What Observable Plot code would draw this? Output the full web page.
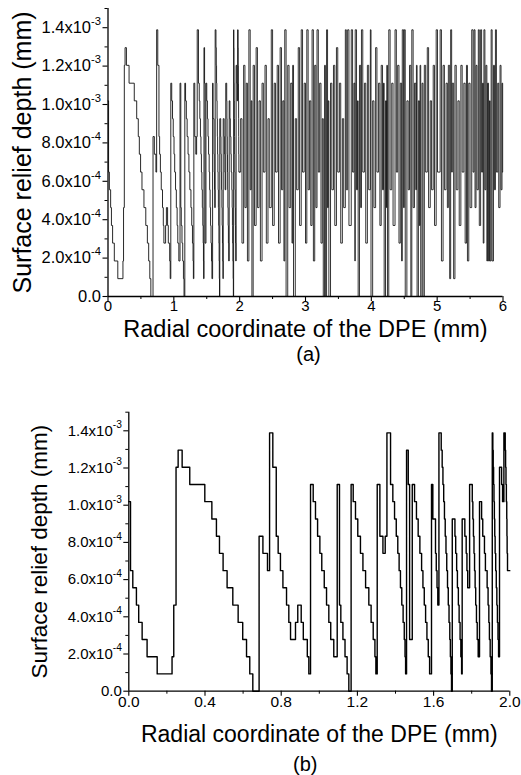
<!DOCTYPE html>
<html><head><meta charset="utf-8">
<script src="https://cdn.jsdelivr.net/npm/d3@7"></script>
<script src="https://cdn.jsdelivr.net/npm/@observablehq/plot@0.6"></script>
<style>
html,body{margin:0;padding:0;background:#fff}
#wrap{position:relative;width:521px;height:775px;overflow:hidden;background:#fff}
#wrap svg{position:absolute;left:0;overflow:visible}
</style></head>
<body><div id="wrap"></div>
<script>
// ---------- DATA (depth values in units of 1e-3 mm, radial coordinate in mm) ----------
// Panel (b): zoomed profile 0–2 mm, step-after positions and depths
const bX = [0.000,0.009,0.021,0.040,0.052,0.070,0.096,0.149,0.227,0.236,0.248,0.259,0.280,0.320,0.399,0.436,0.460,0.476,0.495,0.516,0.546,0.574,0.598,0.618,0.635,0.651,
0.684,0.704,0.728,0.739,0.756,0.774,0.784,0.796,0.809,0.828,0.840,0.849,0.875,0.887,0.905,0.916,0.937,0.945,
0.954,0.968,0.980,0.991,1.003,1.013,1.026,1.038,1.050,1.060,1.076,1.094,1.106,1.113,1.124,1.135,1.146,1.155,
1.167,1.178,1.190,1.202,1.216,1.229,1.243,1.260,1.272,1.283,1.292,1.297,1.304,1.318,1.334,1.346,1.355,1.374,1.386,1.395,1.404,1.412,1.419,1.426,1.433,1.440,1.446,1.450,1.453,
1.458,1.467,1.474,1.488,1.500,1.510,1.519,1.528,1.537,1.544,1.551,1.558,1.565,1.572,1.579,
1.589,1.596,1.610,1.614,1.618,1.622,1.628,1.640,1.645,1.649,1.653,1.657,1.661,1.665,1.669,1.673,1.677,1.681,1.685,1.688,1.691,1.694,
1.698,1.712,1.716,1.721,1.725,1.730,1.734,1.739,1.743,1.747,1.750,1.764,1.771,1.775,1.779,
1.789,1.803,1.806,1.809,1.812,1.815,1.818,1.821,1.825,1.829,1.834,1.841,1.852,1.858,1.867,1.872,1.881,1.886,1.890,1.893,1.897,1.901,1.904,
1.908,1.911,1.913,1.915,1.917,1.919,1.921,1.923,1.926,1.929,1.932,1.935,1.938,1.941,1.946,1.957,1.962,1.969,1.976,1.978,1.980,1.982,1.984,1.985,1.986,1.988,2.000];
const bV = [1.019,0.648,0.556,0.463,0.370,0.278,0.185,0.093,0.185,0.463,1.204,1.296,1.204,1.111,1.019,0.926,0.833,0.741,0.648,0.556,0.463,0.370,0.278,0.185,0.093,0,
0.833,0.741,0.648,1.389,1.204,0.833,0.741,0.648,0.556,0.463,0.370,0.278,0.370,0.463,0.370,0.278,0.185,0.093,
1.111,1.019,0.926,0.833,0.741,0.648,0.556,0.463,0.370,0.278,0.185,1.111,0.463,0.370,0.278,0.185,0.093,0,
1.111,1.019,0.926,0.833,0.741,0.648,0.556,0.463,0.370,0.278,0.185,0.093,1.111,0.833,0.741,0.833,1.389,1.111,1.019,0.926,0.833,0.741,0.648,0.556,0.463,0.370,0.278,0.185,0.093,
1.296,1.111,0.278,1.111,1.019,0.926,0.833,0.741,0.648,0.556,0.463,0.370,0.278,0.185,0.093,
1.111,0.926,0.741,0.648,0.556,0.463,1.389,1.296,1.204,1.111,1.019,0.926,0.833,0.741,0.648,0.556,0.463,0.370,0.278,0.185,0.093,0,
0.926,0.833,0.741,0.648,0.556,0.463,0.370,0.278,0.185,0.093,0.926,0.833,0.741,0.648,0.556,
1.111,1.019,0.926,0.833,0.741,0.648,0.556,0.463,0.370,0.278,0.185,1.019,0.926,0.833,0.741,0.648,0.556,0.463,0.370,0.278,0.185,0.093,0,
1.389,1.296,1.204,1.111,1.019,0.926,0.833,0.741,0.648,0.556,0.463,0.370,0.278,0.185,1.204,1.111,1.019,1.389,1.296,1.204,1.111,1.019,0.926,0.833,0.741,0.648,0.648];

// Panel (a): continuation of the profile from 2 to 6 mm, one entry per zone
// (zone start, depth at the top of the zone, position where it drops, depth at the bottom of the zone)
const aZoneStart = [2.015,2.060,2.100,2.140,2.175,2.205,2.250,2.295,2.340,2.385,
2.430,2.480,2.525,2.570,2.615,2.655,2.685,2.730,2.775,2.805,
2.845,2.890,2.935,2.980,3.020,3.060,3.100,3.140,3.175,3.215,
3.255,3.290,3.320,3.345,3.380,3.425,3.470,3.515,3.560,3.605,
3.640,3.695,3.735,3.755,3.790,3.820,3.850,3.895,3.940,3.985,
4.020,4.065,4.110,4.150,4.185,4.215,4.235,4.265,4.310,4.360,
4.400,4.440,4.470,4.500,4.540,4.580,4.615,4.655,4.685,4.715,
4.740,4.770,4.805,4.850,4.895,4.940,4.985,5.045,5.090,5.135,
5.170,5.205,5.230,5.270,5.315,5.360,5.405,5.445,5.480,5.525,
5.560,5.590,5.625,5.660,5.690,5.710,5.740,5.765,5.795,5.820,
5.855,5.885,5.920,5.955,5.985];
const aZoneTop = [0.926,1.204,1.111,1.389,1.019,1.204,1.296,1.019,1.111,1.204,
0.926,1.389,1.111,1.204,1.296,1.019,1.389,1.204,1.111,1.204,
0.926,1.296,1.389,1.111,1.389,1.019,1.389,1.204,1.389,1.111,
0.926,1.204,1.389,1.019,1.111,1.204,1.296,1.111,0.926,1.389,
1.389,1.389,1.111,1.389,1.019,1.204,1.389,1.111,1.204,1.389,
1.019,1.296,1.111,1.204,1.111,1.019,1.204,1.389,1.111,1.389,
1.204,1.111,1.389,1.389,1.019,1.204,1.389,1.111,1.204,1.019,
1.204,1.111,1.204,1.296,1.019,1.204,1.389,1.389,1.204,1.111,
1.204,1.389,1.111,1.204,1.019,1.204,1.111,1.204,1.111,1.389,
1.389,1.204,1.389,1.389,1.111,1.389,1.204,1.111,1.019,1.389,
1.204,1.389,1.111,1.204,1.111];
const aZoneDrop = [2.035,2.080,2.118,2.160,2.186,2.225,2.270,2.315,2.360,2.405,
2.450,2.500,2.545,2.590,2.635,2.672,2.705,2.750,2.795,2.818,
2.865,2.910,2.955,3.000,3.040,3.080,3.120,3.158,3.195,3.235,
3.270,3.302,3.335,3.355,3.400,3.445,3.490,3.535,3.580,3.620,
3.660,3.715,3.750,3.775,3.800,3.838,3.870,3.915,3.960,3.995,
4.040,4.085,4.130,4.170,4.195,4.230,4.245,4.285,4.330,4.380,
4.420,4.460,4.490,4.515,4.560,4.600,4.635,4.675,4.695,4.730,
4.750,4.785,4.825,4.870,4.915,4.960,5.005,5.065,5.110,5.155,
5.190,5.220,5.250,5.290,5.335,5.380,5.425,5.460,5.500,5.545,
5.575,5.605,5.640,5.675,5.700,5.725,5.755,5.780,5.805,5.835,
5.870,5.900,5.935,5.970,5.995];
const aZoneBottom = [0.278,0.463,0.185,0.556,0,0.370,0.463,0.185,0.648,0.278,
0.463,0.370,0.648,0.278,0.556,0.185,0,0.463,0.278,0,
0.556,0.370,0.648,0.278,0.556,0.370,0.185,0.463,0.648,0.278,
0,0,0.463,0,0.556,0.370,0.648,0.278,0.463,0.556,
0.370,0.648,0.185,0.556,0,0.463,0.648,0.278,0.556,0,
0.463,0.648,0.370,0.556,0,0.463,0,0.556,0.370,0.648,
0.278,0.185,0.463,0,0.556,0,0.463,0.556,0,0.370,
0,0,0.648,0.463,0.556,0.370,0.648,0.185,0.556,0.463,
0.093,0.648,0.093,0.556,0.370,0.648,0.278,0.185,0.463,0.648,
0.463,0.556,0.370,0.648,0.278,0.556,0.185,0.185,0.185,0.185,
0.556,0.648,0.463,0.556,0.648];
const aEndX = 6.0, aEndV = 0.648;

// Axis ticks and labels
const yMajor = [0, 0.2e-3, 0.4e-3, 0.6e-3, 0.8e-3, 1.0e-3, 1.2e-3, 1.4e-3];
const yLabels = ["0.0","2.0x10^-4","4.0x10^-4","6.0x10^-4","8.0x10^-4","1.0x10^-3","1.2x10^-3","1.4x10^-3"];
const yMinor = [0.1e-3, 0.3e-3, 0.5e-3, 0.7e-3, 0.9e-3, 1.1e-3, 1.3e-3, 1.5e-3];
const aXMajor = [0,1,2,3,4,5,6];
const aXLabels = ["0","1","2","3","4","5","6"];
const aXMinor = [0.5,1.5,2.5,3.5,4.5,5.5];
const bXMajor = [0,0.4,0.8,1.2,1.6,2.0];
const bXLabels = ["0.0","0.4","0.8","1.2","1.6","2.0"];
const bXMinor = [0.2,0.6,1.0,1.4,1.8];
const xTitle = "Radial coordinate of the DPE (mm)";
const yTitle = "Surface relief depth (mm)";

// ---------- build tables ----------
const bData = bX.map((x, i) => ({x, y: bV[i] * 1e-3}));
const aExt = [{x: bX[bX.length - 1], y: bV[bV.length - 1] * 1e-3}];
aZoneStart.forEach((s, i) => {
  aExt.push({x: s, y: aZoneTop[i] * 1e-3});
  aExt.push({x: aZoneDrop[i], y: aZoneBottom[i] * 1e-3});
});
aExt.push({x: aEndX, y: aEndV * 1e-3});

const FONT = "'Liberation Sans', Arial, Helvetica, sans-serif";

function panel(o) {
  const yl = d => yLabels[Math.round(d / 2e-4)];
  return Plot.plot({
    width: 521, height: o.height,
    marginTop: o.mt, marginBottom: o.mb, marginLeft: o.ml, marginRight: o.mr,
    style: {fontFamily: FONT, color: "#000", background: "transparent", overflow: "visible"},
    x: {domain: o.xDomain, label: null},
    y: {domain: [0, 1.5e-3], label: null},
    marks: [
      ...o.lines,
      Plot.ruleX([o.xDomain[0]], {stroke: "#000", strokeWidth: 1.3}),
      Plot.ruleY([0], {stroke: "#000", strokeWidth: 1.3}),
      Plot.axisX(o.xMajor, {tickSize: 5, tickPadding: o.xTickPad, tickFormat: (d) => o.xLabels[o.xMajor.indexOf(d)], fontSize: o.xTickFont, label: null, strokeWidth: 1.1}),
      Plot.axisX(o.xMinor, {tickSize: 3, tickFormat: () => "", label: null, strokeWidth: 1}),
      Plot.axisY(yMajor, {tickSize: 5, tickPadding: 2, tickFormat: yl, fontSize: o.yTickFont, label: null, strokeWidth: 1.1}),
      Plot.axisY(yMinor, {tickSize: 3, tickFormat: () => "", label: null, strokeWidth: 1}),
      Plot.text([xTitle], {text: d => d, frameAnchor: "bottom", dy: o.xTitleDy, fontSize: o.xTitleSize, textAnchor: "middle", lineAnchor: "middle"}),
      Plot.text([o.tag], {text: d => d, frameAnchor: "bottom", dy: o.tagDy, dx: o.tagDx, fontSize: 20, textAnchor: "middle", lineAnchor: "middle"}),
      Plot.text([yTitle], {text: d => d, frameAnchor: "left", rotate: -90, dx: o.yTitleDx, fontSize: o.yTitleSize, textAnchor: "middle", lineAnchor: "middle"})
    ]
  });
}

function superscripts(svg) {
  for (const t of svg.querySelectorAll("text")) {
    const s = t.textContent;
    if (s.includes("^")) {
      const [base, exp] = s.split("^");
      t.textContent = base;
      const ts = document.createElementNS("http://www.w3.org/2000/svg", "tspan");
      ts.setAttribute("dy", "-0.72em");
      ts.setAttribute("font-size", "0.68em");
      ts.textContent = exp;
      t.appendChild(ts);
    }
  }
}

const wrap = document.getElementById("wrap");
const A = panel({height: 380, mt: 8, mb: 84, ml: 107.5, mr: 18.5, xDomain: [0, 6],
  lines: [
    Plot.line(bData, {x: "x", y: "y", curve: "step-after", stroke: "#111", strokeWidth: 0.9}),
    Plot.line(aExt, {x: "x", y: "y", curve: "step-after", stroke: "#111", strokeWidth: 0.85})
  ],
  xMajor: aXMajor, xLabels: aXLabels, xMinor: aXMinor, xTickPad: -1,
  xTickFont: 15, yTickFont: 16.5, xTitleSize: 23.5, yTitleSize: 25,
  xTitleDy: 33, tagDy: 58, tagDx: 3, yTitleDx: -85.5, tag: "(a)"});
A.style.top = "0px";
superscripts(A);
wrap.appendChild(A);

const B = panel({height: 395, mt: 31.7, mb: 84.3, ml: 128.3, mr: 11.7, xDomain: [0, 2],
  lines: [Plot.line(bData, {x: "x", y: "y", curve: "step-after", stroke: "#000", strokeWidth: 1.4})],
  xMajor: bXMajor, xLabels: bXLabels, xMinor: bXMinor, xTickPad: 0,
  xTickFont: 15.5, yTickFont: 15, xTitleSize: 23, yTitleSize: 22.5,
  xTitleDy: 43, tagDy: 73, tagDx: -14, yTitleDx: -89.3, tag: "(b)"});
B.style.top = "380px";
superscripts(B);
wrap.appendChild(B);
</script>
</body></html>
